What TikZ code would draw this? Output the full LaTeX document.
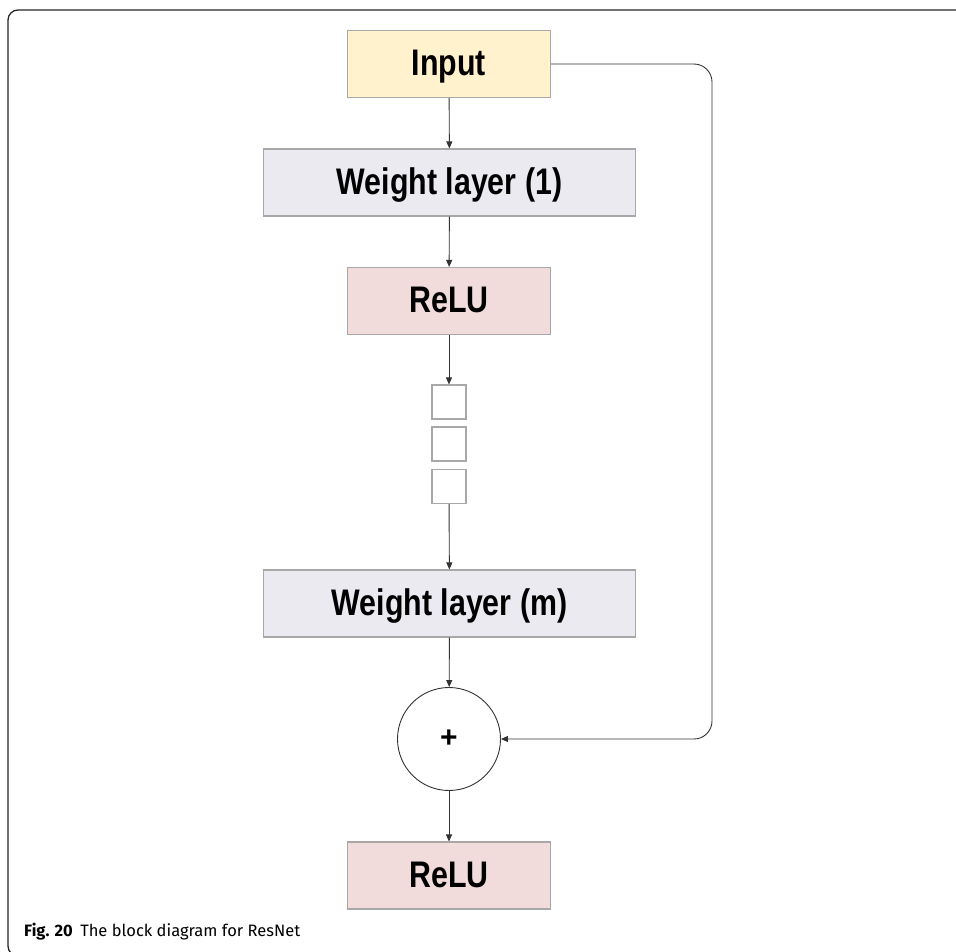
\documentclass[tikz,border=0pt]{standalone}
\usepackage{fontspec}
\setmainfont{Liberation Sans}
\newfontfamily\boxfont{Liberation Sans}[FakeStretch=0.82]
\newfontfamily\capfont{Fira Sans}
\usetikzlibrary{arrows.meta,calc}

\definecolor{inputfill}{HTML}{FFF2CC}
\definecolor{weightfill}{HTML}{ECEAF1}
\definecolor{relufill}{HTML}{F2DCDB}
\definecolor{boxline}{HTML}{A8A8A8}
\definecolor{wire}{HTML}{333333}

\tikzset{
  block/.style={draw=boxline, line width=1.1pt, inner sep=0pt,
    font=\boxfont\bfseries\fontsize{37}{40}\selectfont,
    text height=27pt, text depth=4pt, align=center},
  inblock/.style={block, fill=inputfill, minimum width=203pt, minimum height=67pt},
  wblock/.style={block, fill=weightfill, minimum width=372pt, minimum height=67pt},
  rblock/.style={block, fill=relufill, minimum width=203pt, minimum height=67pt},
  dotbox/.style={draw=boxline, line width=1.1pt, fill=white, minimum width=34pt, minimum height=34pt, inner sep=0pt},
  sumnode/.style={circle, draw=wire, line width=0.9pt, fill=white, minimum size=103pt, inner sep=0pt,
    font=\bfseries\fontsize{30}{30}\selectfont},
  flow/.style={draw=wire, line width=0.9pt, -{Triangle[width=6pt,length=7pt]}},
  frameline/.style={draw=black!85, line width=1.3pt, rounded corners=10pt}
}

\begin{document}
\begin{tikzpicture}[x=1pt, y=-1pt]
  \useasboundingbox (0,0) rectangle (956,951);
  % figure frame, open to the right and below
  \draw[frameline] (1000,10) -- (8,10) -- (8,956) -- (40,956);

  % main column of layers
  \node[inblock] (in) at (449,64) {Input};
  \node[wblock] (w1) at (449.5,182.5) {Weight layer (1)};
  \node[rblock] (r1) at (449,301) {ReLU};
  \node[dotbox] (d1) at (449,402) {};
  \node[dotbox] (d2) at (449,444) {};
  \node[dotbox] (d3) at (449,486.5) {};
  \node[wblock] (wm) at (449.5,603.5) {Weight layer (m)};
  \node[sumnode] (sum) at (449,739) {+};
  \node[rblock] (r2) at (449,875.5) {ReLU};

  % forward connections
  \draw[flow] (in) -- (w1);
  \draw[flow] (w1) -- (r1);
  \draw[flow] (r1) -- (d1);
  \draw[flow] (d3) -- (wm);
  \draw[flow] (wm) -- (sum);
  \draw[flow] (sum) -- (r2);

  % identity shortcut
  \coordinate (skip) at (712,0);
  \draw[flow, rounded corners=18pt] (in.east) -- (in.east -| skip) -- (sum.east -| skip) -- (sum.east);

  % caption
  \node[anchor=base west, inner sep=0pt, font=\capfont\fontsize{16.5}{18}\selectfont] (cap) at (24,936.5)
    {\textbf{Fig. 20}\hspace{0.45em}The block diagram for ResNet};
\end{tikzpicture}
\end{document}
